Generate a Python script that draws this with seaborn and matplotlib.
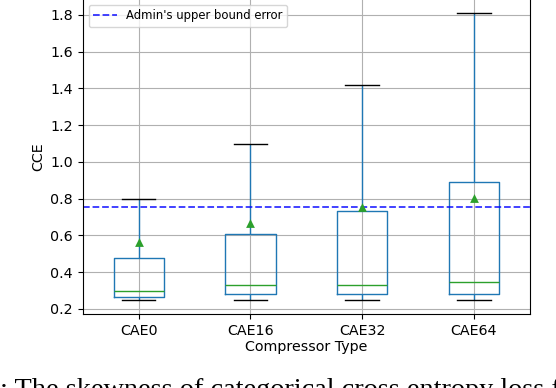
import numpy as np
import pandas as pd
import matplotlib
matplotlib.use("Agg")
import matplotlib.pyplot as plt
import seaborn as sns

# five-number summaries (outliers are not shown)
compressors = ["CAE0", "CAE16", "CAE32", "CAE64"]
whisker_low = [0.25, 0.25, 0.25, 0.25]
q1 = [0.265, 0.278, 0.278, 0.278]
median = [0.298, 0.331, 0.331, 0.347]
q3 = [0.478, 0.609, 0.735, 0.893]
whisker_high = [0.80, 1.10, 1.417, 1.81]
means = [0.565, 0.665, 0.753, 0.805]
admin_bound = 0.755

rows = []
for i, c in enumerate(compressors):
    for v in (whisker_low[i], q1[i], median[i], q3[i], whisker_high[i]):
        rows.append({"Compressor Type": c, "CCE": v})
df = pd.DataFrame(rows)

fig, ax = plt.subplots(figsize=(5.56, 3.88), dpi=100)
fig.subplots_adjust(left=0.149, right=0.953, bottom=0.191, top=1.003)

sns.boxplot(data=df, x="Compressor Type", y="CCE", order=compressors,
            whis=(0, 100), width=0.45, fill=False, linewidth=1.0,
            showfliers=False, capwidths=0.3,
            boxprops=dict(color="#1f77b4"),
            whiskerprops=dict(color="#1f77b4"),
            capprops=dict(color="black"),
            medianprops=dict(color="#2ca02c"),
            ax=ax)

sns.scatterplot(x=compressors, y=means, marker="^", s=40, color="#2ca02c",
                linewidth=0, zorder=3, ax=ax)

ax.axhline(admin_bound, color="b", linestyle="--", alpha=0.8, lw=1.3,
           label="Admin's upper bound error")

ax.grid(True, color="#b0b0b0", linewidth=0.8, zorder=0.5)
ax.set_axisbelow(True)
ax.set_ylim(0.172, 1.888)
ax.set_xlim(-0.5, 3.5)
ax.tick_params(labelsize=10.3)
ax.set_xlabel("Compressor Type", fontsize=10.3, labelpad=2)
ax.set_ylabel("CCE", fontsize=10.3)
ax.legend(loc="upper left", fontsize=8.4)

# figure caption from the page, cropped at the bottom as in the source
fig.text(0.0, -0.022, ": The skewness of categorical cross entropy loss f",
         family="Liberation Serif", fontsize=20.3, va="baseline", ha="left")

fig.savefig("out.png", dpi=100)
